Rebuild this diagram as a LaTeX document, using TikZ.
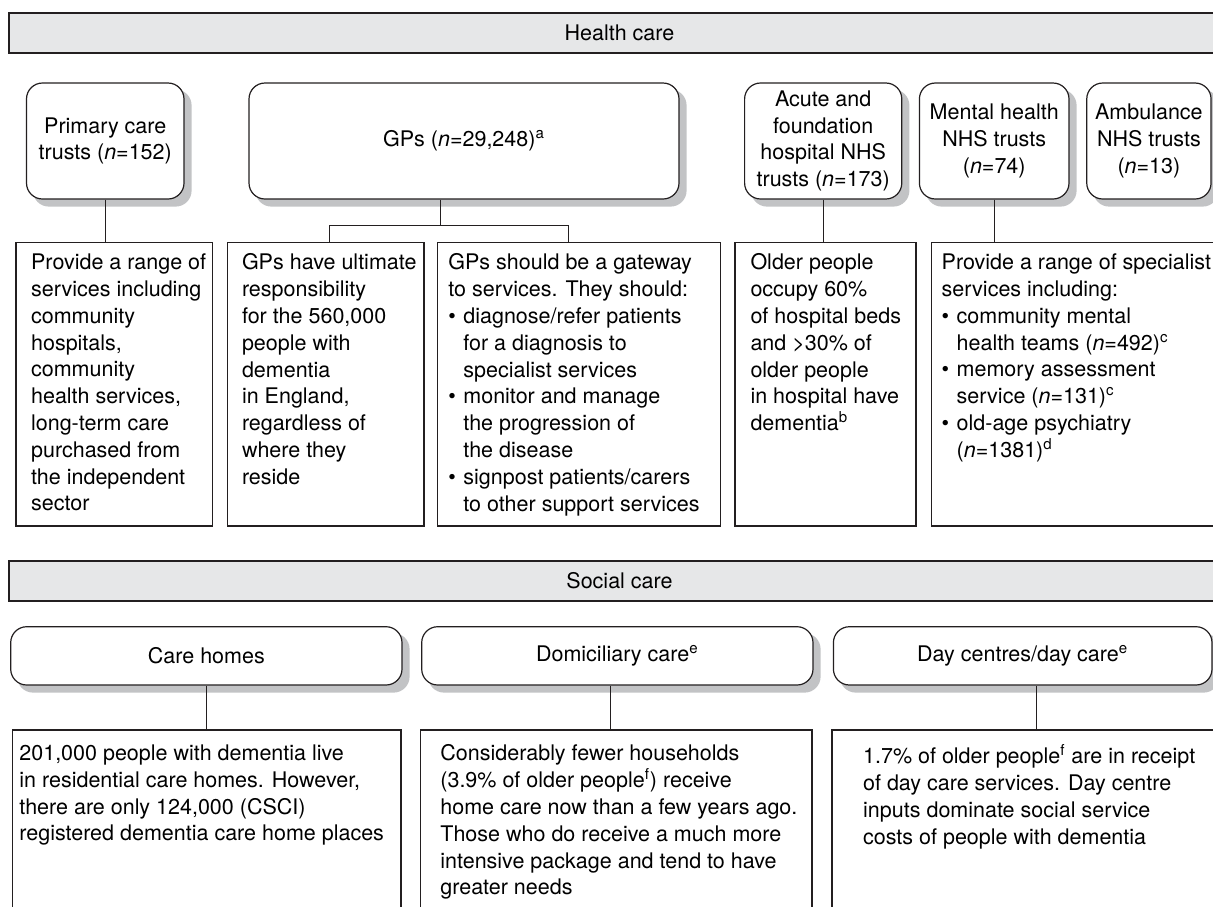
\documentclass[tikz,border=0pt]{standalone}
\usepackage{fontspec}
\setmainfont{TeX Gyre Heros}
\usetikzlibrary{backgrounds}
\definecolor{bandgray}{RGB}{230,231,232}
\definecolor{shadegray}{RGB}{194,195,197}
\definecolor{linegray}{RGB}{35,31,32}
\newcommand{\bul}{\makebox[7.5pt][l]{\textbullet}}
\newcommand{\cnt}{\hspace*{7.5pt}}

\begin{document}
\begin{tikzpicture}[x=0.5pt, y=-0.5pt,
        font=\fontsize{10.75}{13.4}\selectfont,
        band/.style={rectangle, draw=linegray, line width=0.6pt, fill=bandgray, minimum width=610.5pt, minimum height=20pt},
        unit/.style={rectangle, rounded corners=8pt, draw=linegray, line width=0.6pt, fill=white, align=center, minimum height=58pt},
        kind/.style={unit, minimum height=29.15pt},
        dropshade/.style={fill=shadegray, rounded corners=8pt},
        info/.style={rectangle, draw=linegray, line width=0.6pt, fill=white},
        note/.style={anchor=north west, inner sep=0pt, align=left, execute at begin node=\strut},
        link/.style={draw=linegray, line width=0.6pt}
    ]
        \useasboundingbox (0,0) rectangle (1213,906);

        \node[band] (health) at (619.5,33) {Health care};

        \node[unit, minimum width=78.75pt] (pct) at (105.25,141) {Primary care\\trusts (\textit{n}=152)};
        \node[unit, minimum width=215pt] (gps) at (464,141) {GPs (\textit{n}=29,248)\textsuperscript{a}};
        \node[unit, minimum width=78.6pt] (acute) at (823.2,141) {Acute and\\foundation\\hospital NHS\\trusts (\textit{n}=173)};
        \node[unit, minimum width=74.8pt] (mental) at (994.2,141) {Mental health\\NHS trusts\\(\textit{n}=74)};
        \node[unit, minimum width=62.15pt] (ambulance) at (1148.9,141) {Ambulance\\NHS trusts\\(\textit{n}=13)};

        \node[info, minimum width=98.35pt, minimum height=141.65pt] (pctbox) at (114.35,384.35) {};
        \node[info, minimum width=98.15pt, minimum height=141.65pt] (respbox) at (325.85,384.35) {};
        \node[info, minimum width=141.55pt, minimum height=141.65pt] (gatebox) at (579.25,384.35) {};
        \node[info, minimum width=90.5pt, minimum height=141.65pt] (bedbox) at (825.4,384.35) {};
        \node[info, minimum width=154.25pt, minimum height=141.65pt] (specbox) at (1085.75,384.35) {};

        \node[note] (pcttxt) at (30.7,253.5) {Provide a range of\\services including\\community\\hospitals,\\community\\health services,\\long-term care\\purchased from\\the independent\\sector};
        \node[note] (resptxt) at (241.6,253.5) {GPs have ultimate\\responsibility\\for the 560,000\\people with\\dementia\\in England,\\regardless of\\where they\\reside};
        \node[note] (gatetxt) at (448,253.5) {GPs should be a gateway\\to services. They should:\\\bul diagnose/refer patients\\\cnt for a diagnosis to\\\cnt specialist services\\\bul monitor and manage\\\cnt the progression of\\\cnt the disease\\\bul signpost patients/carers\\\cnt to other support services};
        \node[note] (bedtxt) at (750.1,253.5) {Older people\\occupy 60\%\\of hospital beds\\and >30\% of\\older people\\in hospital have\\dementia\textsuperscript{b}};
        \node[note] (spectxt) at (941.3,253.5) {Provide a range of specialist\\services including:\\\bul community mental\\\cnt health teams (\textit{n}=492)\textsuperscript{c}\\\bul memory assessment\\\cnt service (\textit{n}=131)\textsuperscript{c}\\\bul old-age psychiatry\\\cnt (\textit{n}=1381)\textsuperscript{d}};

        \coordinate (gpfork) at (440.7,225.7);
        \draw[link] (pct.south) -- (pct.south |- pctbox.north);
        \draw[link] (gps.south -| gpfork) -- (gpfork);
        \draw[link] ([xshift=1.7pt]respbox.north) |- (gpfork) -| ([xshift=-5.35pt]gatebox.north);
        \draw[link] (acute.south) -- (acute.south |- bedbox.north);
        \draw[link] (mental.south) -- (mental.south |- specbox.north);

        \node[band] (social) at (619.5,581) {Social care};

        \node[kind, minimum width=195.65pt] (homes) at (206.35,655.85) {Care homes};
        \node[kind, minimum width=195.65pt] (domic) at (617.35,655.85) {Domiciliary care\textsuperscript{e}};
        \node[kind, minimum width=189.3pt] (daycare) at (1022.7,655.85) {Day centres/day care\textsuperscript{e}};

        \node[info, minimum width=194.35pt, minimum height=100pt] (homesbox) at (206.65,830) {};
        \node[info, minimum width=195.65pt, minimum height=100pt] (domicbox) at (616.35,830) {};
        \node[info, minimum width=204pt, minimum height=100pt] (daybox) at (1036,830) {};

        \node[note] (homestxt) at (19,744.5) {201,000 people with dementia live\\in residential care homes. However,\\there are only 124,000 (CSCI)\\registered dementia care home places};
        \node[note] (domictxt) at (440,744.5) {Considerably fewer households\\(3.9\% of older people\textsuperscript{f}) receive\\home care now than a few years ago.\\Those who do receive a much more\\intensive package and tend to have\\greater needs};
        \node[note] (daytxt) at (862.7,744.5) {1.7\% of older people\textsuperscript{f} are in receipt\\of day care services. Day centre\\inputs dominate social service\\costs of people with dementia};

        \draw[link] (homes.south) -- (homes.south |- homesbox.north);
        \draw[link] ([xshift=-3.3pt]domic.south) -- ([xshift=-3.3pt]domic.south |- domicbox.north);
        \draw[link] ([xshift=0.25pt]daybox.north) -- ([xshift=0.25pt]daybox.north |- daycare.south);

        \begin{scope}[on background layer]
            \foreach \b in {pct,gps,acute,mental,ambulance,homes,domic,daycare}
                \fill[dropshade] ([xshift=3.5pt,yshift=-3.5pt]\b.south west) rectangle ([xshift=3.5pt,yshift=-3.5pt]\b.north east);
        \end{scope}
    \end{tikzpicture}
\end{document}
